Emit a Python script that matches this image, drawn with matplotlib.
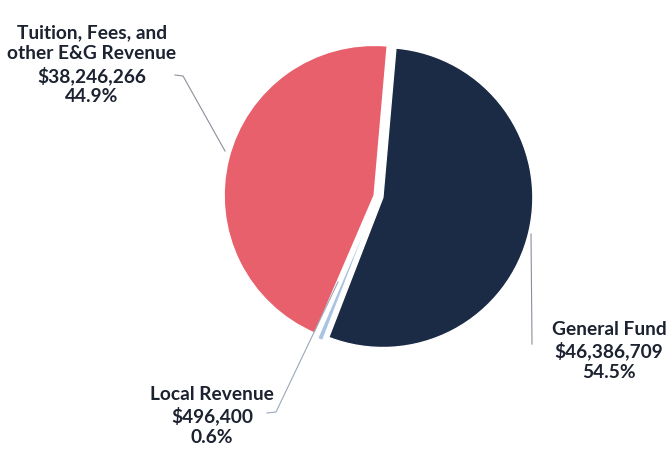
import numpy as np
import matplotlib
matplotlib.use("Agg")
import matplotlib.pyplot as plt

# ---------------------------------------------------------------------------
# Data
# ---------------------------------------------------------------------------
categories = ["General Fund", "Local Revenue", "Tuition, Fees, and\nother E&G Revenue"]
amounts = [46386709, 496400, 38246266]
percents = [54.5, 0.6, 44.9]
colours = ["#1b2a45", "#a9c4e0", "#e8606c"]

TEXT = "#1c2230"
LINE = "#8a8f99"

plt.rcParams["font.family"] = ["Lato", "DejaVu Sans"]

fig = plt.figure(figsize=(6.69, 4.52), dpi=100)
ax = fig.add_axes([0, 0, 1, 1])

# pie centred in pixel-like coordinates (y measured upward);
# explode is in data units here, i.e. pixels
centre = (378.5, 452 - 197.5)
radius = 150
ax.pie(amounts, colors=colours, startangle=85, counterclock=False,
       center=centre, radius=radius, explode=[4.5, 4.5, 4.5],
       wedgeprops=dict(linewidth=1.0, edgecolor="white"), frame=True)
ax.set_xlim(0, 669)
ax.set_ylim(0, 452)
ax.set_aspect("equal")
ax.axis("off")


def label(i, x, y):
    ax.text(x, 452 - y, f"{categories[i]}\n${amounts[i]:,}\n{percents[i]}%",
            ha="center", va="center", fontsize=13.8, fontweight="bold",
            color=TEXT, linespacing=1.25)


# Tuition
label(2, 92, 65)
ax.plot([175, 183, 225], [452 - 76, 452 - 77, 452 - 152], color=LINE, lw=0.8)

# General Fund
label(0, 609, 351)
ax.plot([531, 532], [452 - 235, 452 - 345], color=LINE, lw=0.8)

# Local Revenue
label(1, 212, 416)
ax.plot([267, 276, 338], [452 - 414, 452 - 413, 452 - 283], color="#9aa8ba", lw=0.8)

fig.savefig("out.png", dpi=100)
plt.close(fig)
